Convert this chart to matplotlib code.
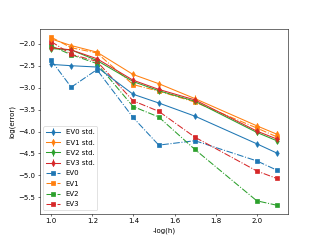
import matplotlib
matplotlib.use('Agg')
import matplotlib.pyplot as plt

# -log(h) values
x = [1.0, 1.097, 1.222, 1.398, 1.523, 1.699, 2.0, 2.097]

# mean errors with std (solid lines)
ev0_std = [-2.47, -2.50, -2.53, -3.15, -3.35, -3.65, -4.28, -4.49]
ev1_std = [-1.89, -2.04, -2.19, -2.70, -2.91, -3.25, -3.87, -4.06]
ev2_std = [-2.11, -2.14, -2.38, -2.86, -3.07, -3.31, -4.02, -4.21]
ev3_std = [-2.09, -2.14, -2.34, -2.83, -3.04, -3.28, -3.99, -4.17]
ev0_err = [0.03, 0.03, 0.04, 0.04, 0.04, 0.04, 0.04, 0.04]
ev1_err = [0.03, 0.04, 0.04, 0.05, 0.06, 0.08, 0.07, 0.07]
ev2_err = [0.03, 0.03, 0.03, 0.04, 0.04, 0.04, 0.05, 0.05]
ev3_err = [0.03, 0.03, 0.04, 0.05, 0.05, 0.05, 0.05, 0.05]

# single-run errors (dash-dot lines)
ev0 = [-2.38, -2.99, -2.59, -3.68, -4.31, -4.21, -4.67, -4.88]
ev1 = [-1.85, -2.09, -2.21, -2.93, -3.08, -3.33, -3.92, -4.12]
ev2 = [-2.05, -2.25, -2.45, -3.43, -3.67, -4.41, -5.58, -5.68]
ev3 = [-1.95, -2.24, -2.40, -3.30, -3.54, -4.13, -4.90, -5.07]

colors = ['tab:blue', 'tab:orange', 'tab:green', 'tab:red']

fig = plt.figure(figsize=(6.4, 4.8), dpi=50)
ax = fig.add_subplot(111)

handles = []
for i, (m, e) in enumerate(zip([ev0_std, ev1_std, ev2_std, ev3_std],
                               [ev0_err, ev1_err, ev2_err, ev3_err])):
    h = ax.errorbar(x, m, yerr=e, color=colors[i], marker='d',
                    linestyle='-', label='EV%d std.' % i)
    handles.append(h)

for i, v in enumerate([ev0, ev1, ev2, ev3]):
    h, = ax.plot(x, v, color=colors[i], marker='s', linestyle='-.',
                 label='EV%d' % i)
    handles.append(h)

ax.set_xlabel('-log(h)')
ax.set_ylabel('log(error)')
ax.legend(handles=handles, loc='lower left', labelspacing=0.62)

fig.savefig('out.png', dpi=50)
